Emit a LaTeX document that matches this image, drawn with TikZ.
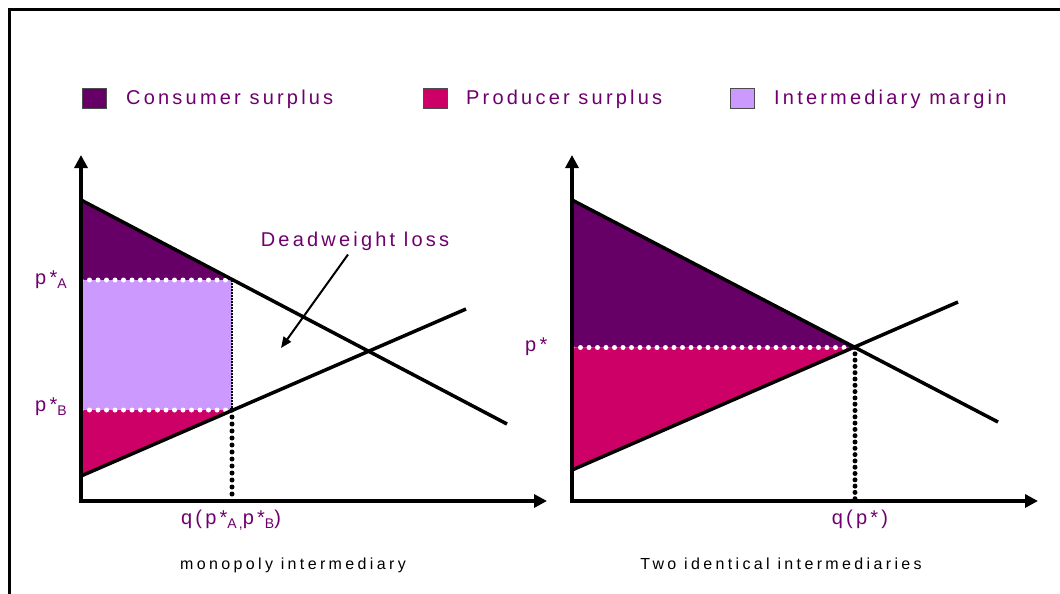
\documentclass[tikz,border=0pt]{standalone}
\usepackage{fontspec}
\setmainfont{Liberation Sans}[LetterSpace=16]
\usetikzlibrary{arrows.meta}
\definecolor{cspurple}{HTML}{660066}
\definecolor{psred}{HTML}{CC0066}
\definecolor{imlilac}{HTML}{CC99FF}
\definecolor{txtpurple}{HTML}{6E006E}
\newcommand{\lowidx}[1]{\raisebox{-0.45ex}{\fontsize{14}{15}\selectfont #1}}
\tikzset{
  axis/.style={line width=4.5pt,{Triangle[length=13pt,width=13pt]}-{Triangle[length=13pt,width=13pt]}},
  curve/.style={line width=3.5pt},
  wdots/.style={white,line width=5pt,line cap=round,dash pattern=on 0pt off 8.5pt},
  bdots/.style={black,line width=5pt,line cap=round,dash pattern=on 0pt off 7pt},
  lab/.style={text=txtpurple,font=\fontsize{20}{22}\selectfont,inner sep=0pt},
  paneltitle/.style={font=\fontsize{16}{18}\selectfont\addfontfeatures{LetterSpace=21},inner sep=0pt,anchor=base},
  key/.style={draw=black!70,line width=1pt,minimum width=24pt,minimum height=20pt,inner sep=0pt}
}
\begin{document}
\begin{tikzpicture}[x=1pt,y=-1pt]
\useasboundingbox (0,0) rectangle (1060,594);
\draw[line width=3pt] (9.5,600) -- (9.5,10) -- (1070,10);
\node[key,fill=cspurple] (kc) at (94,98) {};
\node[lab,anchor=base west] (tc) at (126,104) {Consumer surplus};
\node[key,fill=psred] (kp) at (435,98) {};
\node[lab,anchor=base west] (tp) at (466,104) {Producer surplus};
\node[key,fill=imlilac] (km) at (742,98) {};
\node[lab,anchor=base west] (tm) at (774,104) {Intermediary margin};
\coordinate (oA) at (81,501);
\coordinate (yA) at (81,155);
\coordinate (xA) at (547,501);
\coordinate (dA0) at (81,200);
\coordinate (dA1) at (507,424);
\coordinate (sA0) at (81,476);
\coordinate (sA1) at (466,309);
\coordinate (pA) at (81,280);
\coordinate (pB) at (81,410);
\coordinate (hiA) at (232,280);
\coordinate (loA) at (232,410);
\coordinate (qA) at (232,501);
\fill[cspurple] (dA0) -- (hiA) -- (pA) -- cycle;
\fill[imlilac] (pA) rectangle (loA);
\fill[psred] (pB) -- (loA) -- (sA0) -- cycle;
\draw[wdots] (pA) -- (hiA);
\draw[wdots] (pB) -- (loA);
\draw[line width=2pt,dash pattern=on 1.5pt off 1.5pt] (hiA) -- (loA);
\draw[bdots] (loA) -- (qA);
\draw[curve] (dA0) -- (dA1);
\draw[curve] (sA0) -- (sA1);
\draw[axis] (yA) -- (oA) -- (xA);
\node[lab,anchor=base west] (lpA) at (35,284) {p*\lowidx{A}};
\node[lab,anchor=base west] (lpB) at (35,411) {p*\lowidx{B}};
\node[lab,anchor=base] (lqA) at (231,524) {q(p*\lowidx{A,}p*\lowidx{B})};
\node[lab] (dwl) at (355,241) {Deadweight loss};
\coordinate (dwtip) at (281,348);
\draw[line width=2pt,-{Triangle[length=11pt,width=9pt]}] ([xshift=-7pt,yshift=-4pt]dwl.south) -- (dwtip);
\node[paneltitle] (tA) at (293,569) {monopoly intermediary};
\coordinate (oB) at (572,501);
\coordinate (yB) at (572,155);
\coordinate (xB) at (1038,501);
\coordinate (dB0) at (572,200);
\coordinate (dB1) at (998,422);
\coordinate (sB0) at (572,470);
\coordinate (sB1) at (958,302);
\coordinate (pS) at (572,347.5);
\coordinate (eq) at (855,347.5);
\coordinate (qS) at (855,501);
\fill[cspurple] (dB0) -- (eq) -- (pS) -- cycle;
\fill[psred] (pS) -- (eq) -- (sB0) -- cycle;
\draw[wdots] (pS) -- (eq);
\draw[bdots,dash pattern=on 0pt off 6.3pt] (eq) -- (qS);
\draw[curve] (dB0) -- (dB1);
\draw[curve] (sB0) -- (sB1);
\draw[axis] (yB) -- (oB) -- (xB);
\node[lab,anchor=base west] (lp) at (525,351) {p*};
\node[lab,anchor=base] (lq) at (860,524) {q(p*)};
\node[paneltitle] (tB) at (781,569) {Two identical intermediaries};
\end{tikzpicture}
\end{document}
